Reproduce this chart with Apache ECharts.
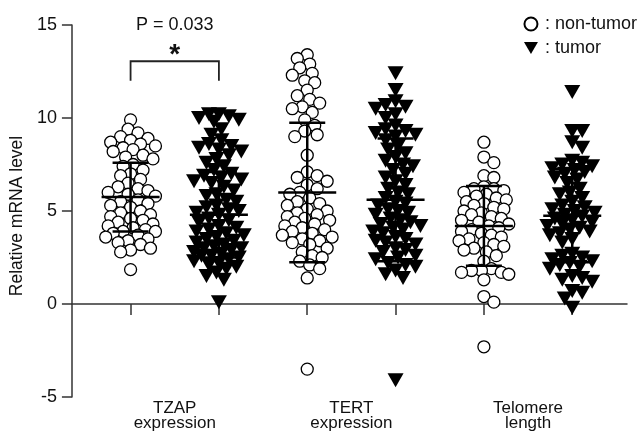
<!DOCTYPE html>
<html>
<head>
<meta charset="utf-8">
<script src="https://cdn.jsdelivr.net/npm/echarts@6/dist/echarts.min.js"></script>
<style>html,body{margin:0;padding:0;background:#fff;}#c{width:642px;height:432px;}</style>
</head>
<body>
<div id="c"></div>
<script>
// ---------- data ----------
const categories = ['TZAP\nexpression', 'TERT\nexpression', 'Telomere\nlength'];
const groupNames = ['non-tumor', 'tumor'];
const yTicks = [-5, 0, 5, 10, 15];

const tzapNonTumor = [9.9, 9.4, 9.2, 9.0, 8.9, 8.8, 8.7, 8.6, 8.5, 8.4, 8.3, 8.2, 8.0, 7.9, 7.8, 7.5, 7.4, 7.2, 7.0, 6.9,
  6.7, 6.5, 6.3, 6.2, 6.1, 6.0, 5.9, 5.8, 5.6, 5.5, 5.4, 5.3, 5.2, 5.0, 4.9, 4.8, 4.7, 4.6, 4.5, 4.4,
  4.3, 4.2, 4.1, 4.0, 3.9, 3.9, 3.8, 3.7, 3.6, 3.5, 3.4, 3.3, 3.2, 3.0, 2.9, 2.8, 1.85];
const tzapTumor = [10.2, 10.2, 10.1, 10.0, 9.9, 9.8, 9.4, 9.1, 8.8, 8.6, 8.5, 8.4, 8.3, 8.2, 8.0, 7.8, 7.6, 7.4, 7.2, 7.0,
  6.9, 6.8, 6.7, 6.6, 6.5, 6.3, 6.1, 5.9, 5.8, 5.6, 5.5, 5.3, 5.2, 5.1, 5.0, 4.9, 4.8, 4.6, 4.5, 4.4,
  4.2, 4.1, 4.0, 3.9, 3.8, 3.7, 3.6, 3.5, 3.4, 3.3, 3.2, 3.1, 3.0, 3.0, 2.9, 2.8, 2.7, 2.6, 2.6, 2.5,
  2.4, 2.3, 2.2, 2.1, 2.0, 1.9, 1.7, 1.5, 1.3, 0.1];
const tertNonTumor = [13.4, 13.2, 12.9, 12.7, 12.4, 12.3, 12.0, 11.9, 11.5, 11.2, 11.0, 10.8, 10.6, 10.5, 10.3, 9.9, 9.6, 9.3, 9.1, 9.0,
  8.0, 7.1, 6.9, 6.8, 6.6, 6.4, 6.2, 6.0, 5.9, 5.7, 5.5, 5.4, 5.3, 5.1, 5.0, 4.9, 4.8, 4.7, 4.6, 4.5,
  4.4, 4.3, 4.2, 4.1, 4.0, 3.9, 3.8, 3.7, 3.6, 3.5, 3.4, 3.3, 3.2, 3.0, 2.8, 2.6, 2.5, 2.3, 2.1, 1.9,
  1.4, -3.5];
const tertTumor = [12.4, 11.5, 10.9, 10.7, 10.6, 10.5, 10.2, 10.0, 9.6, 9.4, 9.3, 9.2, 9.1, 9.0, 8.8, 8.5, 8.3, 8.1, 7.9, 7.7,
  7.5, 7.4, 7.2, 7.0, 6.8, 6.6, 6.4, 6.2, 6.0, 5.9, 5.7, 5.5, 5.4, 5.3, 5.1, 5.0, 4.9, 4.8, 4.6, 4.5,
  4.4, 4.3, 4.2, 4.1, 4.0, 3.9, 3.8, 3.6, 3.5, 3.4, 3.3, 3.2, 3.0, 2.9, 2.8, 2.6, 2.5, 2.4, 2.2, 2.1,
  2.0, 1.8, 1.6, 1.4, -4.1];
const telNonTumor = [8.7, 7.9, 7.6, 6.9, 6.8, 6.3, 6.2, 6.2, 6.1, 6.0, 5.9, 5.8, 5.7, 5.6, 5.5, 5.4, 5.3, 5.2, 5.1, 5.0,
  4.9, 4.8, 4.7, 4.6, 4.5, 4.4, 4.3, 4.2, 4.1, 4.0, 3.9, 3.8, 3.7, 3.6, 3.5, 3.4, 3.3, 3.2, 3.1, 3.0,
  2.9, 2.8, 2.6, 2.3, 1.9, 1.8, 1.8, 1.7, 1.7, 1.6, 1.3, 0.4, 0.1, -2.3];
const telTumor = [11.4, 9.3, 9.3, 8.7, 8.4, 7.7, 7.6, 7.5, 7.4, 7.3, 7.2, 7.1, 7.0, 6.8, 6.7, 6.5, 6.2, 6.0, 5.9, 5.7,
  5.5, 5.3, 5.2, 5.1, 5.0, 4.9, 4.8, 4.7, 4.6, 4.5, 4.4, 4.3, 4.2, 4.1, 4.0, 3.9, 3.8, 3.7, 3.5, 3.3,
  2.7, 2.6, 2.5, 2.4, 2.3, 2.2, 2.1, 2.0, 1.9, 1.5, 1.4, 1.3, 1.2, 0.7, 0.6, 0.3, -0.2];

// mean and SD per category
const nonTumorMean = [5.75, 6.0, 4.2];
const nonTumorSD = [1.85, 3.75, 2.15];
const tumorMean = [4.8, 5.6, 4.75];
const tumorSD = [2.3, 3.3, 2.5];

// significance annotation
const pLabel = 'P = 0.033';
const starLabel = '*';

// ---------- layout ----------
const W = 642, H = 432;
const G = { left: 69, right: 15, top: 25, bottom: 34 };
const X_MIN = 0.336, X_MAX = 6.62, Y_MIN = -5, Y_MAX = 15;
const pxPerX = (W - G.left - G.right) / (X_MAX - X_MIN);
const pxPerY = (H - G.top - G.bottom) / (Y_MAX - Y_MIN);

// beeswarm offsets (pixel layout only, values untouched)
function swarm(values, center, minD, maxOff) {
  const order = values.map((v, i) => i).sort((a, b) => values[b] - values[a]);
  const placed = [];
  const out = new Array(values.length);
  let flip = 1;
  for (const i of order) {
    const y = values[i] * pxPerY;
    let best = null, bestScore = -1;
    const cands = [0];
    for (let k = 1; k * 2.5 <= maxOff; k++) { cands.push(flip * k * 2.5, -flip * k * 2.5); }
    for (const dx of cands) {
      let md = Infinity;
      for (const p of placed) {
        const d = Math.hypot(p[0] - dx, p[1] - y);
        if (d < md) md = d;
      }
      if (md >= minD) { best = dx; break; }
      if (md > bestScore) { bestScore = md; best = dx; }
    }
    placed.push([best, y]);
    flip = -flip;
    out[i] = [center + best / pxPerX, values[i]];
  }
  return out;
}

const ntGroups = [tzapNonTumor, tertNonTumor, telNonTumor];
const tGroups = [tzapTumor, tertTumor, telTumor];
let ntData = [], tData = [];
ntGroups.forEach((g, i) => { ntData = ntData.concat(swarm(g, 1 + 2 * i, 9.5, 25)); });
tGroups.forEach((g, i) => { tData = tData.concat(swarm(g, 2 + 2 * i, 9.5, 26)); });

const barData = [];
categories.forEach((c, i) => {
  barData.push([1 + 2 * i, nonTumorMean[i], nonTumorSD[i]]);
  barData.push([2 + 2 * i, tumorMean[i], tumorSD[i]]);
});

const FONT = 'Liberation Sans, Arial, sans-serif';
const INK = '#111';
const triPath = 'path://M0,0L20,0L10,17Z';

const chart = echarts.init(document.getElementById('c'), null, { renderer: 'canvas' });
chart.setOption({
  animation: false,
  backgroundColor: '#fff',
  textStyle: { fontFamily: FONT, color: INK },
  grid: { left: G.left, right: G.right, top: G.top, bottom: G.bottom, containLabel: false },
  legend: {
    data: [
      { name: groupNames[0], icon: 'circle' },
      { name: groupNames[1], icon: triPath }
    ],
    orient: 'vertical', right: 0, top: 10, itemWidth: 14, itemHeight: 13, itemGap: 6,
    formatter: n => ': ' + n,
    textStyle: { fontSize: 18, fontFamily: FONT, color: INK, padding: [0, 0, 0, 2] },
    selectedMode: false
  },
  xAxis: {
    type: 'value', min: X_MIN, max: X_MAX,
    axisLine: { show: true, lineStyle: { color: '#333', width: 1.5 } },
    axisTick: { show: true, length: 11, inside: false, customValues: [1, 2, 3, 4, 5, 6], lineStyle: { color: '#333', width: 1.5 } },
    axisLabel: {
      customValues: [1.5, 3.5, 5.5],
      formatter: v => categories[Math.round((v - 1.5) / 2)],
      fontSize: 17, lineHeight: 15, margin: 4, color: INK, fontFamily: FONT
    },
    splitLine: { show: false }
  },
  yAxis: {
    type: 'value', min: Y_MIN, max: Y_MAX, interval: 5,
    name: 'Relative mRNA level', nameLocation: 'middle', nameGap: 33,
    nameTextStyle: { fontSize: 17.5, color: INK, fontFamily: FONT, padding: [0, 10, 0, 0] },
    axisLine: { show: true, lineStyle: { color: '#333', width: 1.5 } },
    axisTick: { show: true, length: 10, inside: false, lineStyle: { color: '#333', width: 1.5 } },
    axisLabel: { fontSize: 18, margin: 15, color: INK, fontFamily: FONT, formatter: v => yTicks.includes(v) ? String(v) : '' },
    splitLine: { show: false }
  },
  series: [
    {
      name: groupNames[0], type: 'scatter', data: ntData, symbol: 'circle', symbolSize: 12,
      itemStyle: { color: '#fff', borderColor: '#000', borderWidth: 1.3, opacity: 1 }, z: 3
    },
    {
      name: groupNames[1], type: 'scatter', data: tData, symbol: triPath, symbolSize: [16, 14],
      itemStyle: { color: '#000', opacity: 1 }, z: 3
    },
    {
      name: 'bars', type: 'custom', data: barData, z: 5, silent: true,
      renderItem: (params, api) => {
        const x = api.value(0), m = api.value(1), s = api.value(2);
        const pm = api.coord([x, m]);
        const pt = api.coord([x, m + s]);
        const pb = api.coord([x, m - s]);
        const st = { stroke: '#000', lineWidth: 2.5 };
        return {
          type: 'group', children: [
            { type: 'line', shape: { x1: pm[0] - 29, y1: pm[1], x2: pm[0] + 29, y2: pm[1] }, style: st },
            { type: 'line', shape: { x1: pt[0], y1: pt[1], x2: pb[0], y2: pb[1] }, style: st },
            { type: 'line', shape: { x1: pt[0] - 18, y1: pt[1], x2: pt[0] + 18, y2: pt[1] }, style: st },
            { type: 'line', shape: { x1: pb[0] - 18, y1: pb[1], x2: pb[0] + 18, y2: pb[1] }, style: st }
          ]
        };
      }
    },
    {
      name: 'annot', type: 'custom', data: [[1, 2, 12, 13.05, 15, 13.35]], z: 6, silent: true,
      renderItem: (params, api) => {
        const a = api.coord([api.value(0), api.value(2)]);
        const b = api.coord([api.value(0), api.value(3)]);
        const c = api.coord([api.value(1), api.value(3)]);
        const d = api.coord([api.value(1), api.value(2)]);
        const mid = (a[0] + d[0]) / 2;
        const pT = api.coord([1.5, api.value(4)]);
        const sT = api.coord([1.5, api.value(5)]);
        return {
          type: 'group', children: [
            { type: 'polyline', shape: { points: [a, b, c, d] }, style: { stroke: '#222', lineWidth: 1.8, fill: null } },
            { type: 'text', x: mid, y: pT[1], style: { text: pLabel, font: '18px ' + FONT, fill: INK, align: 'center', verticalAlign: 'middle' } },
            { type: 'text', x: mid, y: sT[1], style: { text: starLabel, font: 'bold 28px ' + FONT, fill: INK, align: 'center', verticalAlign: 'middle' } }
          ]
        };
      }
    }
  ]
});
</script>
</body>
</html>
